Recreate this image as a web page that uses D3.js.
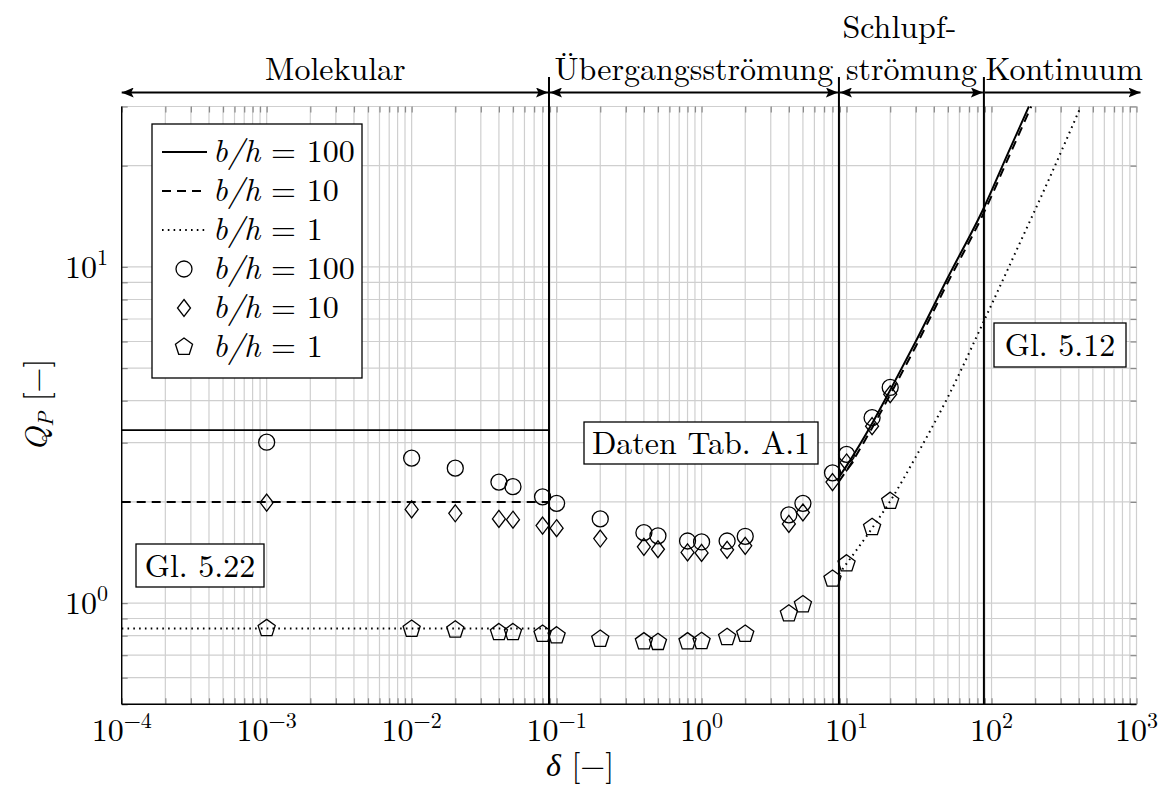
<!DOCTYPE html>
<html>
<head>
<meta charset="utf-8">
<script src="https://cdn.jsdelivr.net/npm/d3@7"></script>
<style>
  body { margin: 0; background: #fff; }
  svg { display: block; }
</style>
</head>
<body>
<svg width="1164" height="794"></svg>
<script>
// measured data (delta, Q_P) for three aspect ratios
const delta = [0.001, 0.01, 0.02, 0.04, 0.05, 0.08, 0.1, 0.2, 0.4, 0.5, 0.8, 1, 1.5, 2, 4, 5, 8, 10, 15, 20];
const q100 = [3.01, 2.70, 2.52, 2.29, 2.22, 2.07, 1.98, 1.78, 1.62, 1.585, 1.53, 1.52, 1.53, 1.58, 1.83, 1.98, 2.44, 2.77, 3.56, 4.38];
const q10 = [1.99, 1.90, 1.85, 1.78, 1.77, 1.70, 1.67, 1.556, 1.47, 1.446, 1.415, 1.41, 1.44, 1.48, 1.72, 1.86, 2.29, 2.62, 3.36, 4.18];
const q1 = [0.841, 0.837, 0.833, 0.818, 0.818, 0.809, 0.80, 0.782, 0.768, 0.765, 0.768, 0.77, 0.791, 0.809, 0.93, 0.99, 1.18, 1.31, 1.68, 2.01];

// free molecular limit (Gl. 5.22)
const fmEnd = 0.0886;
const fm100 = 3.27, fm10 = 2.0, fm1 = 0.84;

// slip / continuum curves (Gl. 5.12)
const slipD100 = [8.86, 10, 15, 20, 30, 50, 88.6, 130, 181];
const slipQ100 = [2.37, 2.56, 3.42, 4.3, 6.0, 9.3, 15.0, 21.8, 30];
const slipD10 = [8.86, 10, 15, 20, 30, 50, 88.6, 130, 188];
const slipQ10 = [2.3, 2.48, 3.32, 4.17, 5.8, 9.0, 14.5, 21.0, 30];
const slipD1 = [8.86, 10, 15, 20, 30, 50, 88.6, 150, 250, 413];
const slipQ1 = [1.22, 1.31, 1.67, 2.01, 2.72, 4.1, 6.9, 11.3, 18.3, 30];

// flow regime borders and labels
const borders = [0.0886, 8.86, 88.6];
const xExp = [-4, -3, -2, -1, 0, 1, 2, 3];
const yExp = [0, 1];

const FONT = "'Latin Modern Roman', 'Liberation Serif', serif";
const FS = 32;

const svg = d3.select("svg");
const pL = 121.7, pR = 1136.5, pT = 106.5, pB = 704.3;

const x = d3.scaleLog().domain([1e-4, 1e3]).range([pL, pR]);
const y = d3.scaleLog().domain([0.5, 30]).range([pB, pT]);

// grid values
const xGrid = [];
for (let e = -4; e < 3; e++) for (let k = 1; k <= 9; k++) xGrid.push(k * Math.pow(10, e));
xGrid.push(1000);
const yGrid = [0.5, 0.6, 0.7, 0.8, 0.9, 1, 2, 3, 4, 5, 6, 7, 8, 9, 10, 20, 30];

const grid = svg.append("g");
grid.selectAll(".gx").data(xGrid).enter().append("line")
    .attr("x1", d => x(d)).attr("x2", d => x(d))
    .attr("y1", pT).attr("y2", pB)
    .attr("stroke", "#cfcfcf").attr("stroke-width", 1.2);
grid.selectAll(".gy").data(yGrid).enter().append("line")
    .attr("x1", pL).attr("x2", pR)
    .attr("y1", d => y(d)).attr("y2", d => y(d))
    .attr("stroke", "#cfcfcf").attr("stroke-width", 1.2);

// inner ticks on all four sides
function styleTicks(g) {
    g.select(".domain").remove();
    g.selectAll(".tick line").attr("stroke", "#8a8a8a").attr("stroke-width", 1.2);
}
svg.append("g").attr("transform", `translate(0,${pB})`)
    .call(d3.axisBottom(x).tickValues(xGrid).tickSize(-6).tickFormat("")).call(styleTicks);
svg.append("g").attr("transform", `translate(0,${pT})`)
    .call(d3.axisTop(x).tickValues(xGrid).tickSize(-6).tickFormat("")).call(styleTicks);
svg.append("g").attr("transform", `translate(${pL},0)`)
    .call(d3.axisLeft(y).tickValues(yGrid).tickSize(-6).tickFormat("")).call(styleTicks);
svg.append("g").attr("transform", `translate(${pR},0)`)
    .call(d3.axisRight(y).tickValues(yGrid).tickSize(-6).tickFormat("")).call(styleTicks);

// axis lines (left and bottom only)
svg.append("line").attr("x1", pL).attr("x2", pL).attr("y1", pT).attr("y2", pB)
    .attr("stroke", "#000").attr("stroke-width", 1.4);
svg.append("line").attr("x1", pL).attr("x2", pR).attr("y1", pB).attr("y2", pB)
    .attr("stroke", "#000").attr("stroke-width", 1.4);

// tick labels
function powLabel(sel, e) {
    sel.append("tspan").text("10");
    sel.append("tspan").attr("dy", -13).attr("font-size", 22)
        .text(e < 0 ? "\u2212" + Math.abs(e) : String(e));
}
xExp.forEach(e => {
    svg.append("text").attr("x", x(Math.pow(10, e))).attr("y", 741)
        .attr("text-anchor", "middle").attr("font-size", FS).attr("font-family", FONT)
        .call(powLabel, e);
});
yExp.forEach(e => {
    svg.append("text").attr("x", 108).attr("y", y(Math.pow(10, e)) + 11)
        .attr("text-anchor", "end").attr("font-size", FS).attr("font-family", FONT)
        .call(powLabel, e);
});

// axis titles
const xt = svg.append("text").attr("x", 580).attr("y", 776).attr("text-anchor", "middle")
    .attr("font-size", FS).attr("font-family", FONT);
xt.append("tspan").attr("font-style", "italic").text("\u03b4");
xt.append("tspan").text(" [\u2212]");
const yt = svg.append("text").attr("transform", "translate(47,405) rotate(-90)")
    .attr("text-anchor", "middle").attr("font-size", FS).attr("font-family", FONT);
yt.append("tspan").attr("font-style", "italic").text("Q");
yt.append("tspan").attr("font-style", "italic").attr("font-size", 22).attr("dy", 6).text("P");
yt.append("tspan").attr("dy", -6).text(" [\u2212]");

// free molecular lines
const styles = {
    solid: {dash: null, w: 2},
    dashed: {dash: "9,6", w: 2},
    dotted: {dash: "1.6,4.2", w: 2}
};
[[fm100, "solid"], [fm10, "dashed"], [fm1, "dotted"]].forEach(([v, s]) => {
    svg.append("line")
        .attr("x1", x(1e-4)).attr("x2", x(fmEnd))
        .attr("y1", y(v)).attr("y2", y(v))
        .attr("stroke", "#000").attr("stroke-width", s === "solid" ? 1.6 : styles[s].w)
        .attr("stroke-dasharray", styles[s].dash);
});

// slip curves
const line = d3.line().x(d => x(d[0])).y(d => y(d[1])).curve(d3.curveMonotoneX);
[[slipD100, slipQ100, "solid"], [slipD10, slipQ10, "dashed"], [slipD1, slipQ1, "dotted"]].forEach(([ds, qs, s]) => {
    svg.append("path")
        .attr("d", line(d3.zip(ds, qs)))
        .attr("fill", "none").attr("stroke", "#000")
        .attr("stroke-width", styles[s].w)
        .attr("stroke-dasharray", styles[s].dash);
});

// markers
function pentagon(r) {
    const pts = d3.range(5).map(i => {
        const a = -Math.PI / 2 + i * 2 * Math.PI / 5;
        return [r * Math.cos(a), r * Math.sin(a)];
    });
    return "M" + pts.map(p => p.join(",")).join("L") + "Z";
}
const diamond = "M0,-8.5L6.5,0L0,8.5L-6.5,0Z";
const circle = "M8,0A8,8 0 1,1 -8,0A8,8 0 1,1 8,0Z";
const pent = pentagon(9);

function drawMarkers(vals, shape) {
    svg.append("g").selectAll("path").data(d3.zip(delta, vals)).enter().append("path")
        .attr("transform", d => `translate(${x(d[0])},${y(d[1])})`)
        .attr("d", shape)
        .attr("fill", "none").attr("stroke", "#000").attr("stroke-width", 1.3);
}
drawMarkers(q100, circle);
drawMarkers(q10, diamond);
drawMarkers(q1, pent);

// regime borders
borders.forEach(b => {
    svg.append("line").attr("x1", x(b)).attr("x2", x(b)).attr("y1", 77).attr("y2", pB)
        .attr("stroke", "#000").attr("stroke-width", 2);
});

// arrows on top
const defs = svg.append("defs");
defs.append("marker").attr("id", "ah").attr("viewBox", "0 0 12 10")
    .attr("refX", 12).attr("refY", 5).attr("markerWidth", 12).attr("markerHeight", 10)
    .attr("markerUnits", "userSpaceOnUse").attr("orient", "auto-start-reverse")
    .append("path").attr("d", "M0,0L12,5L0,10L2.5,5Z").attr("fill", "#000");

const arrowY = 92.5;
const regions = [
    {a: 1e-4, b: borders[0], start: true, end: true},
    {a: borders[0], b: borders[1], start: true, end: true},
    {a: borders[1], b: borders[2], start: true, end: true},
    {a: borders[2], b: 1e3, start: false, end: true}
];
regions.forEach((r, i) => {
    const x1 = x(r.a) + (i === 0 ? 0 : 1), x2 = x(r.b) + (i === 3 ? 4 : -1);
    svg.append("line").attr("x1", x1).attr("x2", x2).attr("y1", arrowY).attr("y2", arrowY)
        .attr("stroke", "#000").attr("stroke-width", 2)
        .attr("marker-start", r.start ? "url(#ah)" : null)
        .attr("marker-end", r.end ? "url(#ah)" : null);
});

function label(txt, cx, by) {
    svg.append("text").attr("x", cx).attr("y", by).attr("text-anchor", "middle")
        .attr("font-size", FS).attr("font-family", FONT).text(txt);
}
label("Molekular", (x(1e-4) + x(borders[0])) / 2, 80);
label("\u00dcbergangsstr\u00f6mung", (x(borders[0]) + x(borders[1])) / 2, 80);
label("Schlupf-", (x(borders[1]) + x(borders[2])) / 2 - 12, 38);
label("str\u00f6mung", (x(borders[1]) + x(borders[2])) / 2, 80);
label("Kontinuum", (x(borders[2]) + x(1e3)) / 2 + 4, 80);

// boxed annotations
function boxLabel(txt, x0, y0, w, h) {
    svg.append("rect").attr("x", x0).attr("y", y0).attr("width", w).attr("height", h)
        .attr("fill", "#fff").attr("stroke", "#000").attr("stroke-width", 1.3);
    svg.append("text").attr("x", x0 + w / 2).attr("y", y0 + h / 2 + 11)
        .attr("text-anchor", "middle").attr("font-size", FS).attr("font-family", FONT).text(txt);
}
boxLabel("Gl. 5.22", 136, 544, 128, 43);
boxLabel("Daten Tab. A.1", 584, 422, 234, 42);
boxLabel("Gl. 5.12", 994, 323, 132, 44);

// legend
const legend = svg.append("g");
legend.append("rect").attr("x", 152).attr("y", 124).attr("width", 210).attr("height", 254)
    .attr("fill", "#fff").attr("stroke", "#000").attr("stroke-width", 1.3);
const legendRows = [
    {type: "line", s: "solid", v: "100"},
    {type: "line", s: "dashed", v: "10"},
    {type: "line", s: "dotted", v: "1"},
    {type: "mark", m: circle, v: "100"},
    {type: "mark", m: diamond, v: "10"},
    {type: "mark", m: pent, v: "1"}
];
legendRows.forEach((r, i) => {
    const ry = 152 + i * 39;
    if (r.type === "line") {
        legend.append("line").attr("x1", 162).attr("x2", 207).attr("y1", ry).attr("y2", ry)
            .attr("stroke", "#000").attr("stroke-width", styles[r.s].w)
            .attr("stroke-dasharray", styles[r.s].dash);
    } else {
        legend.append("path").attr("transform", `translate(184,${ry})`).attr("d", r.m)
            .attr("fill", "none").attr("stroke", "#000").attr("stroke-width", 1.3);
    }
    const t = legend.append("text").attr("x", 213).attr("y", ry + 10)
        .attr("font-size", FS).attr("font-family", FONT);
    t.append("tspan").attr("font-style", "italic").text("b/h");
    t.append("tspan").text(" = " + r.v);
});
</script>
</body>
</html>
